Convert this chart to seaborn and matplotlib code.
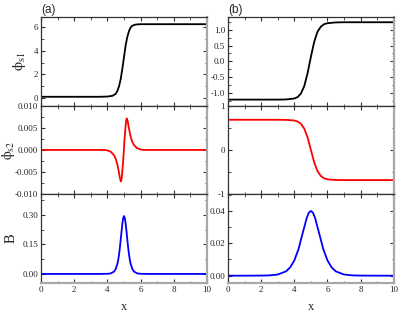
import numpy as np
import pandas as pd
import seaborn as sns
import matplotlib.pyplot as plt
from matplotlib.ticker import MultipleLocator

# (a) top: phi_s1 kink
xa1 = [0, 1, 2, 3, 3.5, 4.0, 4.3, 4.5, 4.6, 4.7, 4.8, 4.9, 5.0, 5.1, 5.2, 5.3, 5.4, 5.5, 5.7, 6.0, 7, 8, 9, 10]
ya1 = [0.1, 0.1, 0.1, 0.1, 0.1, 0.12, 0.18, 0.35, 0.6, 1.0, 1.6, 2.5, 3.5, 4.5, 5.2, 5.7, 6.0, 6.15, 6.25, 6.28, 6.28, 6.28, 6.28, 6.28]

# (a) middle: phi_s2
xa2 = [0, 2, 3.8, 4.0, 4.2, 4.4, 4.5, 4.6, 4.7, 4.75, 4.79, 4.82, 4.86, 4.9, 4.95, 4.99,
       5.03, 5.08, 5.12, 5.16, 5.19, 5.23, 5.28, 5.38, 5.48, 5.58, 5.78, 6.0, 6.2, 8, 10]
ya2 = [0, 0, 0, -0.0001, -0.0004, -0.0012, -0.002, -0.0033, -0.0052, -0.0063, -0.0069, -0.0071, -0.0064, -0.0047, -0.0024, 0,
       0.0024, 0.0047, 0.0064, 0.0071, 0.0069, 0.0063, 0.0052, 0.0033, 0.002, 0.0012, 0.0004, 0.0001, 0, 0, 0]

# (a) bottom: B
xa3 = [0, 2, 3.5, 4.0, 4.2, 4.4, 4.5, 4.6, 4.65, 4.7, 4.75, 4.8, 4.85, 4.9, 4.95, 5.0,
       5.05, 5.1, 5.15, 5.2, 5.25, 5.3, 5.35, 5.4, 5.5, 5.6, 5.8, 6.0, 6.5, 8, 10]
ya3 = [0, 0, 0, 0.0006, 0.0027, 0.0121, 0.0253, 0.0517, 0.072, 0.0993, 0.1336, 0.174, 0.2165, 0.256, 0.2846, 0.295,
       0.2846, 0.256, 0.2165, 0.174, 0.1336, 0.0993, 0.072, 0.0517, 0.0253, 0.0121, 0.0027, 0.0006, 0, 0, 0]

# (b) top
xb1 = [0, 1, 2, 3, 3.5, 4.0, 4.2, 4.4, 4.6, 4.8, 5.0, 5.2, 5.4, 5.6, 5.8, 6.0, 6.5, 7, 8, 9, 10]
yb1 = [-1.22, -1.22, -1.22, -1.22, -1.215, -1.185, -1.14, -1.025, -0.79, -0.38, 0.14, 0.62, 0.94, 1.10, 1.18, 1.21, 1.235, 1.24, 1.24, 1.24, 1.24]

# (b) middle
xb2 = [0, 1, 2, 3, 3.5, 4.0, 4.2, 4.4, 4.6, 4.8, 5.0, 5.2, 5.4, 5.6, 5.8, 6.0, 6.5, 7, 8, 9, 10]
yb2 = [0.68, 0.68, 0.68, 0.68, 0.678, 0.664, 0.64, 0.589, 0.48, 0.281, 0, -0.281, -0.48, -0.589, -0.64, -0.664, -0.678, -0.68, -0.68, -0.68, -0.68]

# (b) bottom
xb3 = [0, 1, 2, 2.5, 3.0, 3.5, 3.75, 4.0, 4.25, 4.5, 4.75, 4.875, 5.0, 5.125, 5.25, 5.5, 5.75, 6.0, 6.25, 6.5, 7.0, 7.5, 8, 9, 10]
yb3 = [0, 0, 0.00005, 0.00018, 0.0007, 0.00266, 0.0051, 0.0094, 0.0163, 0.0261, 0.0357, 0.0389, 0.04,
       0.0389, 0.0357, 0.0261, 0.0163, 0.0094, 0.0051, 0.00266, 0.0007, 0.00018, 0.00005, 0, 0]

sns.set_theme(style="ticks")
plt.rcParams['font.family'] = ['Liberation Serif', 'DejaVu Serif']
plt.rcParams['mathtext.fontset'] = 'stix'
plt.rcParams['xtick.direction'] = 'in'
plt.rcParams['ytick.direction'] = 'in'

fig, axes = plt.subplots(3, 2, figsize=(4.15, 3.19), dpi=100, sharex=True)
fig.subplots_adjust(left=0.099, right=0.949, top=0.947, bottom=0.113, hspace=0, wspace=0.1265)

# ax, x, y, colour, ylim, major step, minor step, format, tick label size
panels = [
    (axes[0, 0], xa1, ya1, 'black', (-0.65, 6.9), 2, 1, '%d', 6.5),
    (axes[1, 0], xa2, ya2, 'red', (-0.01, 0.01), 0.005, 0.0025, '%.3f', 6.5),
    (axes[2, 0], xa3, ya3, 'blue', (-0.046, 0.406), 0.15, 0.075, '%.2f', 6.5),
    (axes[0, 1], xb1, yb1, 'black', (-1.41, 1.41), 0.5, 0.25, '%.1f', 6.5),
    (axes[1, 1], xb2, yb2, 'red', (-1, 1), 1, 0.5, '%d', 6.5),
    (axes[2, 1], xb3, yb3, 'blue', (-0.0045, 0.0503), 0.02, 0.01, '%.2f', 6.5),
]

for ax, xs, ys, col, ylim, major, minor, fmt, lsize in panels:
    df = pd.DataFrame({'x': xs, 'y': ys})
    sns.lineplot(data=df, x='x', y='y', ax=ax, color=col, linewidth=1.3)
    ax.set_xlim(0, 10)
    ax.set_ylim(*ylim)
    ax.yaxis.set_major_locator(MultipleLocator(major))
    ax.yaxis.set_minor_locator(MultipleLocator(minor))
    ax.yaxis.set_major_formatter(plt.FormatStrFormatter(fmt))
    ax.xaxis.set_major_locator(MultipleLocator(2))
    ax.xaxis.set_minor_locator(MultipleLocator(1))
    ax.tick_params(which='both', top=True, right=True, labelsize=6.5, pad=2, color='#333333')
    ax.tick_params(axis='y', labelsize=lsize)
    ax.tick_params(which='major', length=3, width=0.8)
    ax.tick_params(which='minor', length=1.8, width=0.6)
    ax.set_xlabel('')
    ax.set_ylabel('')
    for s in ax.spines.values():
        s.set_color('#333333')
        s.set_linewidth(0.9)
    ax.spines['right'].set_color('#a8a8a8')
    ax.spines['right'].set_linewidth(1.6)

for ax in axes[2]:
    ax.spines['bottom'].set_color('#a8a8a8')
    ax.spines['bottom'].set_linewidth(1.6)
    ax.set_xlabel('x', fontsize=9, labelpad=5)

labels = [r'$\mathrm{\phi_{s1}}$', r'$\mathrm{\phi_{s2}}$', 'B']
label_x = [-0.08, -0.145, -0.14]
label_size = [10.5, 10, 10.5]
for ax, lab, lx, ls in zip(axes[:, 0], labels, label_x, label_size):
    ax.set_ylabel(lab, fontsize=ls)
    ax.yaxis.set_label_coords(lx, 0.5)

axes[0, 0].text(0.0, 1.01, '(a)', transform=axes[0, 0].transAxes, fontsize=8.5,
                family='Liberation Sans', va='bottom', ha='left')
axes[0, 1].text(0.0, 1.01, '(b)', transform=axes[0, 1].transAxes, fontsize=8.5,
                family='Liberation Sans', va='bottom', ha='left')

fig.savefig('out.png', dpi=100)
